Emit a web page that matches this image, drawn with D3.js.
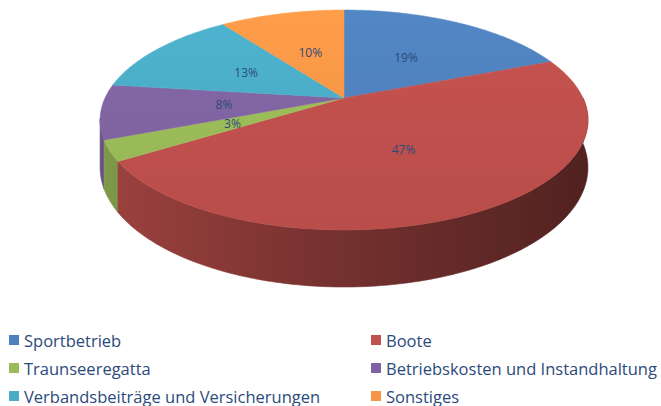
<!DOCTYPE html>
<html><head><meta charset="utf-8">
<script src="https://cdn.jsdelivr.net/npm/d3@7"></script>
<style>body{margin:0;background:#fff}svg{display:block}</style>
</head><body>
<script>
const categories = ["Sportbetrieb","Boote","Traunseeregatta","Betriebskosten und Instandhaltung","Verbandsbeiträge und Versicherungen","Sonstiges"];
const values = [19,47,3,8,13,10];
const colors = ["#4F81BD","#C0504D","#9BBB59","#8064A2","#4BACC6","#F79646"];

const W=661,H=406;
const svg=d3.select("body").append("svg").attr("width",W).attr("height",H);
const defs=svg.append("defs");

// projection parameters (perspective disk)
const cx=344, cy=98, a=239, b=105.6, k=0.2, depth=45.6;
function proj(f,r,drop){
  const phi=2*Math.PI*f, x=r*Math.sin(phi), z=-r*Math.cos(phi), d=1-k*z;
  return [cx+a*x/d, cy+b*z/d+drop/d];
}

const pie=d3.pie().sort(null).value(d=>d)(values);
const fscale=d3.scaleLinear().domain([0,2*Math.PI]).range([0,1]);
const slices=pie.map((p,i)=>({i,f0:fscale(p.startAngle),f1:fscale(p.endAngle),v:p.value}));

const line=d3.line();
function arcPts(f0,f1,r,drop){const n=Math.max(2,Math.ceil((f1-f0)*400));const pts=[];for(let j=0;j<=n;j++)pts.push(proj(f0+(f1-f0)*j/n,r,drop));return pts;}

colors.forEach((c,i)=>{
  const g=defs.append("linearGradient").attr("id","w"+i).attr("gradientUnits","userSpaceOnUse")
    .attr("x1",100).attr("x2",588).attr("y1",0).attr("y2",0);
  const base=d3.rgb(c);
  [[0,0.82],[0.45,0.62],[1,0.42]].forEach(([o,m])=>{
    g.append("stop").attr("offset",o).attr("stop-color",d3.rgb(base.r*m,base.g*m,base.b*m));
  });
  const t=defs.append("linearGradient").attr("id","t"+i).attr("gradientUnits","userSpaceOnUse")
    .attr("x1",0).attr("x2",0).attr("y1",10).attr("y2",232);
  t.append("stop").attr("offset",0).attr("stop-color",d3.rgb(base).brighter(0.12));
  t.append("stop").attr("offset",1).attr("stop-color",d3.rgb(base).darker(0.12));
});

const walls=[];
slices.forEach(s=>{
  const r0=Math.max(s.f0,0.25), r1=Math.min(s.f1,0.5);
  if(r1>r0) walls.push({i:s.i,f0:r0,f1:r1,key:r0});
  const l0=Math.max(s.f0,0.5), l1=Math.min(s.f1,0.72);
  if(l1>l0) walls.push({i:s.i,f0:l0,f1:l1,key:1-l1});
});
walls.sort((p,q)=>p.key-q.key);
svg.append("g").selectAll("path").data(walls).join("path")
  .attr("d",w=>{const top=arcPts(w.f0,w.f1,1,0);const bot=arcPts(w.f0,w.f1,1,depth).reverse();return line(top.concat(bot))+"Z";})
  .attr("fill",w=>`url(#w${w.i})`).attr("stroke",w=>`url(#w${w.i})`).attr("stroke-width",0.6);

svg.append("g").selectAll("path").data(slices).join("path")
  .attr("d",s=>line([proj(0,0,0)].concat(arcPts(s.f0,s.f1,1,0)))+"Z")
  .attr("fill",s=>`url(#t${s.i})`).attr("stroke",s=>`url(#t${s.i})`).attr("stroke-width",0.5);

svg.append("g").selectAll("text").data(slices).join("text")
  .attr("x",s=>proj((s.f0+s.f1)/2,0.5,0)[0]).attr("y",s=>proj((s.f0+s.f1)/2,0.5,0)[1])
  .attr("text-anchor","middle").attr("dominant-baseline","central")
  .attr("font-family","Open Sans, sans-serif").attr("font-size",12).attr("fill","#2B4A7C")
  .text(s=>s.v+"%");

const colX=[9,371], rowY=[340,368,396];
const lg=svg.append("g").selectAll("g").data(categories).join("g")
  .attr("transform",(d,i)=>`translate(${colX[i%2]},${rowY[Math.floor(i/2)]})`);
lg.append("rect").attr("x",0).attr("y",-5).attr("width",10).attr("height",10).attr("fill",(d,i)=>colors[i]);
lg.append("text").attr("x",15).attr("y",0).attr("dominant-baseline","central")
  .attr("font-family","Open Sans, sans-serif").attr("font-size",16.5).attr("fill","#2B4A7C").text(d=>d);
</script>
</body></html>
